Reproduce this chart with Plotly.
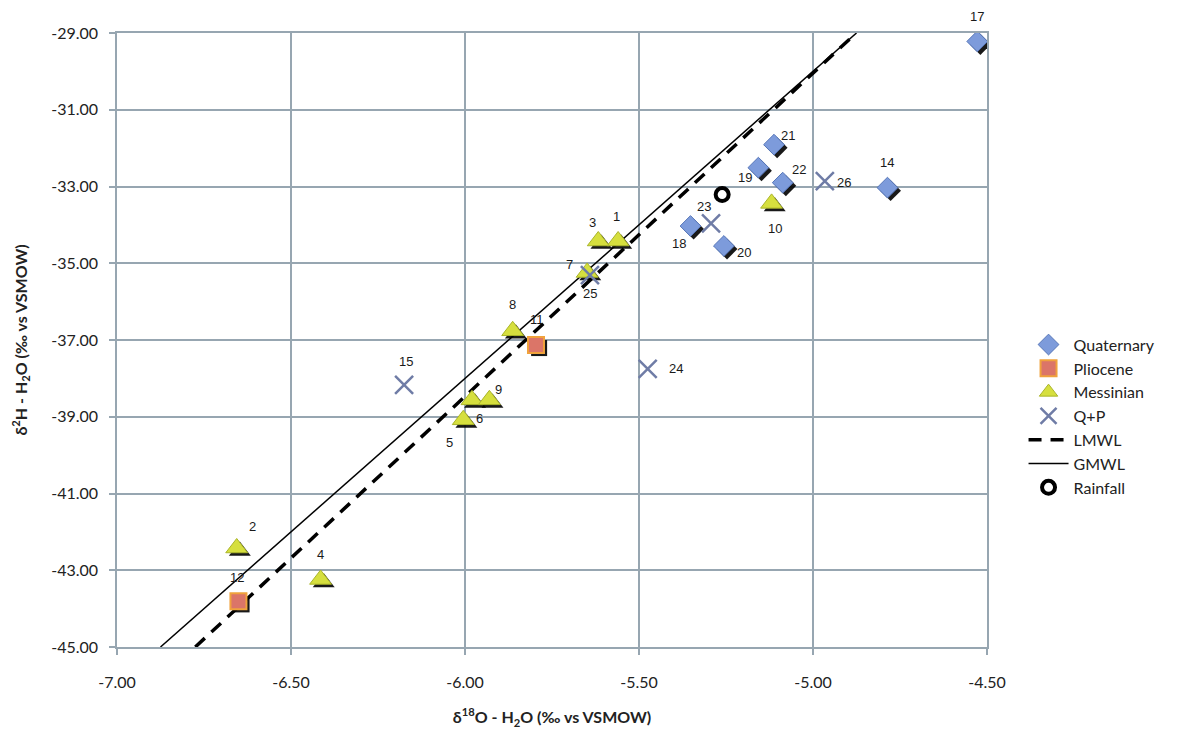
import plotly.graph_objects as go

# ---------------- data ----------------
quat_id = ["14", "17", "18", "19", "20", "21", "22"]
quat_x = [-4.786, -4.528, -5.352, -5.157, -5.256, -5.112, -5.087]
quat_y = [-33.03, -29.22, -34.03, -32.51, -34.55, -31.91, -32.90]

plio_id = ["11", "12"]
plio_x = [-5.796, -6.651]
plio_y = [-37.13, -43.81]

mess_id = ["1", "2", "3", "4", "5", "6", "7", "8", "9", "10"]
mess_x = [-5.560, -6.656, -5.617, -6.415, -6.005, -5.980, -5.649, -5.863, -5.930, -5.119]
mess_y = [-34.42, -42.42, -34.42, -43.24, -39.08, -38.56, -35.24, -36.76, -38.56, -33.44]

qp_id = ["15", "23", "24", "25", "26"]
qp_x = [-6.175, -5.293, -5.475, -5.641, -4.966]
qp_y = [-38.17, -33.96, -37.75, -35.31, -32.86]

rain_x = [-5.261]
rain_y = [-33.21]

lmwl_x = [-6.775, -4.876]
lmwl_y = [-45.0, -29.0]

gmwl_x = [-6.875, -4.875]
gmwl_y = [-45.0, -29.0]

x_ticks = [-7.0, -6.5, -6.0, -5.5, -5.0, -4.5]
x_tick_text = ["-7.00", "-6.50", "-6.00", "-5.50", "-5.00", "-4.50"]
y_ticks = [-45.0, -43.0, -41.0, -39.0, -37.0, -35.0, -33.0, -31.0, -29.0]
y_tick_text = ["-45.00", "-43.00", "-41.00", "-39.00", "-37.00", "-35.00", "-33.00", "-31.00", "-29.00"]

# ---------------- styling ----------------
label_offsets = {  # pixel offsets (dx, dy) of the number label from its marker, screen coords
    "14": (0, -25), "17": (0, -25), "18": (-12, 17), "19": (-13, 10), "20": (20, 7),
    "21": (14, -9), "22": (16, -13), "11": (1, -25), "12": (-1, -24),
    "1": (-2, -24), "2": (16, -21), "3": (-6, -18), "4": (0, -25), "5": (-14, 23),
    "6": (8, 19), "7": (-18, -8), "8": (0, -26), "9": (9, -10), "10": (3, 25),
    "15": (2, -23), "23": (-7, -17), "24": (28, 0), "25": (0, 18), "26": (19, 1),
}

SH_DX, SH_DY = 0.009, -0.08  # drop-shadow offset in data units (~3 px)
GRID = "#97a6b1"
FONT = "Lato"

fig = go.Figure()


def shadow(xs, ys, symbol, size, color="rgba(0,0,0,0.9)"):
    fig.add_trace(go.Scatter(
        x=[v + SH_DX for v in xs], y=[v + SH_DY for v in ys], mode="markers",
        marker=dict(symbol=symbol, size=size, color=color, line=dict(width=0)),
        showlegend=False, hoverinfo="skip"))


# lines
fig.add_trace(go.Scatter(x=lmwl_x, y=lmwl_y, mode="lines", name="LMWL",
                         line=dict(color="black", width=3.5, dash="13px,9px"),
                         legendrank=5))
fig.add_trace(go.Scatter(x=gmwl_x, y=gmwl_y, mode="lines", name="GMWL",
                         line=dict(color="black", width=1.5), legendrank=6))

# shadows
shadow(quat_x, quat_y, "diamond", 16)
shadow(plio_x, plio_y, "square", 16)
shadow(mess_x, mess_y, "triangle-up", 19)

fig.add_trace(go.Scatter(
    x=quat_x, y=quat_y, mode="markers", name="Quaternary", legendrank=1,
    marker=dict(symbol="diamond", size=16, color="#7d9bdb",
                line=dict(color="#5676b8", width=1))))
fig.add_trace(go.Scatter(
    x=plio_x, y=plio_y, mode="markers", name="Pliocene", legendrank=2,
    marker=dict(symbol="square", size=16, color="#db7568",
                line=dict(color="#f0a23c", width=2))))
fig.add_trace(go.Scatter(
    x=mess_x, y=mess_y, mode="markers", name="Messinian", legendrank=3,
    marker=dict(symbol="triangle-up", size=19, color="#d6df3e",
                line=dict(color="#aab52a", width=1))))
fig.add_trace(go.Scatter(
    x=qp_x, y=qp_y, mode="markers", name="Q+P", legendrank=4,
    marker=dict(symbol="x-thin-open", size=18, color="#6f7ca6",
                line=dict(color="#6f7ca6", width=2.5))))
fig.add_trace(go.Scatter(
    x=rain_x, y=rain_y, mode="markers", name="Rainfall", legendrank=7,
    marker=dict(symbol="circle-open", size=13, color="black",
                line=dict(color="black", width=4))))

# number labels
for ids, xs, ys in [(quat_id, quat_x, quat_y), (plio_id, plio_x, plio_y),
                    (mess_id, mess_x, mess_y), (qp_id, qp_x, qp_y)]:
    for i, x, y in zip(ids, xs, ys):
        dx, dy = label_offsets[i]
        fig.add_annotation(x=x, y=y, text=i, showarrow=False, xshift=dx, yshift=-dy,
                           font=dict(family="Liberation Sans", size=13, color="#1a1a1a"))

axis_common = dict(
    showgrid=True, gridcolor=GRID, gridwidth=1.5,
    showline=True, linecolor=GRID, linewidth=1.5, mirror=True,
    ticks="outside", ticklen=6, tickcolor=GRID, tickwidth=1.5,
    zeroline=False,
    tickfont=dict(family=FONT, size=16, color="#222"),
)

fig.update_xaxes(range=[-7.0, -4.5], tickvals=x_ticks, ticktext=x_tick_text,
                 ticklabelstandoff=14, **axis_common,
                 title=dict(text="<b>δ<sup>18</sup>O - H<sub>2</sub>O (‰ vs VSMOW)</b>",
                            font=dict(family=FONT, size=16, color="#222"), standoff=22))
fig.update_yaxes(range=[-45.0, -29.0], tickvals=y_ticks, ticktext=y_tick_text,
                 ticklabelstandoff=8, **axis_common,
                 title=dict(text="<b>δ<sup>2</sup>H - H<sub>2</sub>O (‰ vs VSMOW)</b>",
                            font=dict(family=FONT, size=16, color="#222"), standoff=20))

fig.update_layout(
    width=1182, height=729,
    margin=dict(l=109, r=203, t=25, b=90),
    plot_bgcolor="white", paper_bgcolor="white",
    legend=dict(x=1.042, xanchor="left", y=0.376, yanchor="middle",
                font=dict(family=FONT, size=16, color="#222"),
                tracegroupgap=0, itemwidth=40, bgcolor="rgba(0,0,0,0)"),
)

fig.write_html("out.html")
